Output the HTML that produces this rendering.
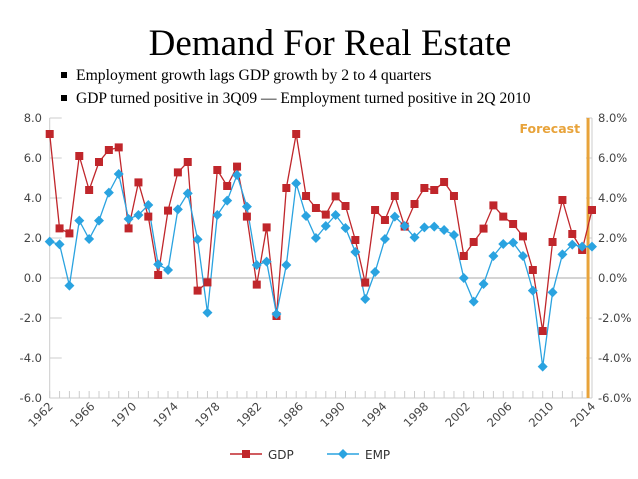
<!DOCTYPE html>
<html><head><meta charset="utf-8"><style>
body{margin:0;background:#fff;width:638px;height:479px;overflow:hidden}
svg{display:block}
</style></head><body>
<svg id="c" width="638" height="479" xmlns="http://www.w3.org/2000/svg">
<text x="330" y="55" text-anchor="middle" font-family="Liberation Serif, serif" font-size="37" fill="#000">Demand For Real Estate</text>
<rect x="61" y="72" width="6" height="6" fill="#000"/>
<text x="76" y="80" font-family="Liberation Serif, serif" font-size="15.7">Employment growth lags GDP growth by 2 to 4 quarters</text>
<rect x="61" y="95" width="6" height="6" fill="#000"/>
<text x="76" y="103" font-family="Liberation Serif, serif" font-size="15.5">GDP turned positive in 3Q09 — Employment turned positive in 2Q 2010</text>
<g id="plot"></g>
<g>
<line x1="230" y1="454" x2="262" y2="454" stroke="#c0262b" stroke-width="1.5"/>
<rect x="242" y="450" width="8" height="8" fill="#c0262b"/>
<text x="268" y="459" font-family="DejaVu Sans, sans-serif" font-size="12" fill="#333">GDP</text>
<line x1="327" y1="454" x2="359" y2="454" stroke="#2aa3e0" stroke-width="1.5"/>
<path d="M343 449 L348 454 L343 459 L338 454Z" fill="#2aa3e0"/>
<text x="365" y="459" font-family="DejaVu Sans, sans-serif" font-size="12" fill="#333">EMP</text>
</g>
</svg>
<script>
const gdp=[7.2,2.48,2.23,6.1,4.4,5.8,6.4,6.53,2.48,4.78,3.07,0.15,3.37,5.28,5.8,-0.63,-0.22,5.4,4.6,5.57,3.07,-0.33,2.53,-1.9,4.5,7.2,4.1,3.5,3.17,4.08,3.6,1.9,-0.23,3.4,2.9,4.1,2.57,3.7,4.5,4.4,4.8,4.1,1.1,1.8,2.47,3.63,3.07,2.7,2.08,0.4,-2.65,1.8,3.9,2.2,1.4,3.4];
const emp=[1.82,1.68,-0.38,2.87,1.95,2.87,4.27,5.2,2.95,3.15,3.65,0.68,0.4,3.43,4.23,1.93,-1.73,3.15,3.87,5.15,3.57,0.65,0.82,-1.8,0.65,4.73,3.1,2.0,2.6,3.15,2.5,1.3,-1.05,0.3,1.95,3.07,2.6,2.03,2.53,2.57,2.4,2.15,0.0,-1.18,-0.3,1.1,1.7,1.77,1.1,-0.63,-4.43,-0.72,1.18,1.67,1.57,1.57];
const yTicks=[8,6,4,2,0,-2,-4,-6];
const leftLabels=["8.0","6.0","4.0","2.0","0.0","-2.0","-4.0","-6.0"];
const rightLabels=["8.0%","6.0%","4.0%","2.0%","0.0%","-2.0%","-4.0%","-6.0%"];
const yearLabels=[1962,1966,1970,1974,1978,1982,1986,1990,1994,1998,2002,2006,2010,2014];
const forecastIndex=54.6;
const NS="http://www.w3.org/2000/svg";
const L=49.7,R=592,T=118,B=398;
const N=gdp.length;
const xi=i=>L+i*(R-L)/(N-1);
const xy=yr=>L+(yr-1962)*(R-L)/52;
const y=v=>T+(8-v)*(B-T)/14;
const g=document.getElementById('plot');
function mk(t,a,p){const e=document.createElementNS(NS,t);for(const k in a)e.setAttribute(k,a[k]);(p||g).appendChild(e);return e;}
const ax='#ccc';
let e=mk('line',{x1:L,y1:T,x2:L,y2:B,stroke:ax});


e=mk('line',{x1:R,y1:T,x2:R,y2:B,stroke:ax});


e=mk('line',{x1:L,y1:B,x2:R,y2:B,stroke:ax});


e=mk('line',{x1:L,y1:y(0),x2:R,y2:y(0),stroke:'#aaa'});


yTicks.forEach((v,k)=>{
  mk('line',{x1:L,y1:y(v),x2:L+12,y2:y(v),stroke:ax});
  mk('line',{x1:R-6,y1:y(v),x2:R,y2:y(v),stroke:ax});
  let t=mk('text',{x:42,y:y(v)+4,'text-anchor':'end','font-family':'DejaVu Sans, sans-serif','font-size':'11.5',fill:'#444'});
  t.textContent=leftLabels[k];
  
  
  t=mk('text',{x:598,y:y(v)+4,'font-family':'DejaVu Sans, sans-serif','font-size':'11.5',fill:'#444'});
  t.textContent=rightLabels[k];
  
  
});
for(let i=0;i<N;i++)mk('line',{x1:xi(i),y1:B-7,x2:xi(i),y2:B,stroke:ax});
yearLabels.forEach(yr=>{
  const x=xy(yr)+4;
  const t=mk('text',{x:x,y:407,'text-anchor':'end','font-family':'DejaVu Sans, sans-serif','font-size':'11.5',fill:'#444',transform:`rotate(-45 ${x} 407)`});
  t.textContent=yr;
  
  
});
const fx=xi(forecastIndex);
e=mk('line',{x1:fx,y1:T,x2:fx,y2:B,stroke:'#e8a33a','stroke-width':3});


e=mk('text',{x:fx-8,y:133,'text-anchor':'end','font-family':'DejaVu Sans, sans-serif','font-size':'12.5','font-weight':'bold',fill:'#e8a33a'});
e.textContent='Forecast';


e=mk('polyline',{points:gdp.map((v,i)=>xi(i)+','+y(v)).join(' '),fill:'none',stroke:'#c0262b','stroke-width':1.3});


e=mk('polyline',{points:emp.map((v,i)=>xi(i)+','+y(v)).join(' '),fill:'none',stroke:'#2aa3e0','stroke-width':1.3});


gdp.forEach((v,i)=>{
  const r=mk('rect',{x:xi(i)-4,y:y(v)-4,width:8,height:8,fill:'#c0262b'});
  
  
});
emp.forEach((v,i)=>{
  const cx=xi(i),cy=y(v);
  const p=mk('path',{d:`M${cx} ${cy-5}L${cx+5} ${cy}L${cx} ${cy+5}L${cx-5} ${cy}Z`,fill:'#2aa3e0'});
  
  
});
</script>
</body></html>
